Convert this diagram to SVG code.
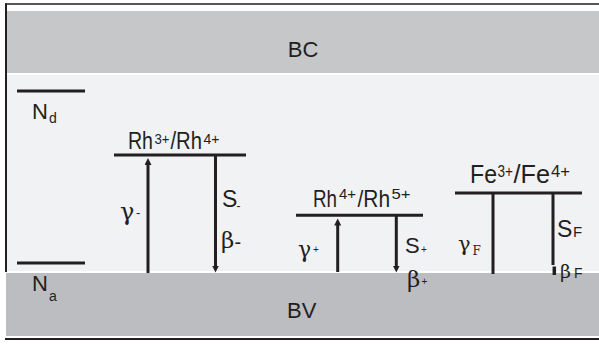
<svg xmlns="http://www.w3.org/2000/svg" width="599" height="344" viewBox="0 0 599 344">
<style>
.t{font-family:"Liberation Sans",Arial,sans-serif;fill:#231f20}
.g{font-family:"DejaVu Serif","Liberation Serif",serif;fill:#231f20}
.lv{stroke:#231f20;stroke-width:3;fill:none}
.ln{stroke:#231f20;stroke-width:3;fill:none}
</style>
<defs>
<marker id="ah" markerUnits="userSpaceOnUse" markerWidth="8" markerHeight="8" refX="3" refY="3.5" orient="auto">
<path d="M0,0 L7,3.5 L0,7 z" fill="#231f20"/>
</marker>
</defs>
<rect x="0" y="0" width="599" height="344" fill="#ffffff"/>
<g id="frame">
<rect x="7" y="11" width="592" height="62" fill="#c6c7c9"/>
<rect x="7" y="75" width="592" height="196" fill="#f1f2f4"/>
<rect x="6" y="273" width="593" height="63" fill="#bcbdc0"/>
<line x1="5" y1="4" x2="599" y2="4" stroke="#231f20" stroke-width="1.6"/>
<line x1="6" y1="3.5" x2="6" y2="272" stroke="#231f20" stroke-width="2"/>
<line x1="5" y1="339" x2="599" y2="339" stroke="#231f20" stroke-width="2"/>
</g>
<g id="BC"><text class="t" x="303" y="57" font-size="22" text-anchor="middle">BC</text></g>
<g id="BV"><text class="t" x="287" y="318" font-size="22">BV</text></g>
<g id="Nd">
<line class="ln" x1="17" y1="91" x2="85" y2="91"/>
<text class="t" x="32" y="119" font-size="22">N</text>
<text class="t" x="49" y="123" font-size="14">d</text>
</g>
<g id="Na">
<line class="ln" x1="17" y1="263" x2="85" y2="263"/>
<text class="t" x="32" y="291" font-size="22">N</text>
<text class="t" x="49" y="301" font-size="14">a</text>
</g>
<g id="Rh34">
<line class="ln" x1="114" y1="155" x2="246" y2="155"/>
<text class="t" x="128" y="149" font-size="23" textLength="25" lengthAdjust="spacingAndGlyphs">Rh</text>
<text class="t" x="154.5" y="143.5" font-size="15" textLength="15" lengthAdjust="spacingAndGlyphs">3+</text>
<text class="t" x="170.5" y="149" font-size="23" textLength="31.5" lengthAdjust="spacingAndGlyphs">/Rh</text>
<text class="t" x="203.5" y="143.5" font-size="15" textLength="16" lengthAdjust="spacingAndGlyphs">4+</text>
</g>
<g id="Rh45">
<line class="ln" x1="296" y1="215.3" x2="423" y2="215.3"/>
<text class="t" x="313" y="207" font-size="24" textLength="24" lengthAdjust="spacingAndGlyphs">Rh</text>
<text class="t" x="339" y="199" font-size="15" textLength="17" lengthAdjust="spacingAndGlyphs">4+</text>
<text class="t" x="357.5" y="207" font-size="24" textLength="32.5" lengthAdjust="spacingAndGlyphs">/Rh</text>
<text class="t" x="391.5" y="199" font-size="15" textLength="19" lengthAdjust="spacingAndGlyphs">5+</text>
</g>
<g id="Fe34">
<line class="ln" x1="455" y1="193" x2="582" y2="193"/>
<text class="t" x="470" y="183" font-size="25" textLength="27" lengthAdjust="spacingAndGlyphs">Fe</text>
<text class="t" x="497.5" y="177" font-size="16" textLength="15.5" lengthAdjust="spacingAndGlyphs">3+</text>
<text class="t" x="513.5" y="183" font-size="25" textLength="36.5" lengthAdjust="spacingAndGlyphs">/Fe</text>
<text class="t" x="551" y="177" font-size="16" textLength="19" lengthAdjust="spacingAndGlyphs">4+</text>
</g>
<g id="connectors">
<line class="lv" x1="148" y1="273" x2="148" y2="162" marker-end="url(#ah)"/>
<line class="lv" x1="215.5" y1="156" x2="215.5" y2="268.5" marker-end="url(#ah)"/>
<line class="lv" x1="337.7" y1="272" x2="337.7" y2="222.5" marker-end="url(#ah)"/>
<line class="lv" x1="396.3" y1="216" x2="396.3" y2="268.5" marker-end="url(#ah)"/>
<line class="lv" x1="493" y1="193" x2="493" y2="274"/>
<line class="lv" x1="553" y1="193" x2="553" y2="265"/>
<line x1="554.3" y1="266.5" x2="554.3" y2="275" stroke="#231f20" stroke-width="3.5"/>
</g>
<g id="labels">
<text class="g" x="120" y="220" font-size="24">γ</text>
<text class="t" x="136" y="217" font-size="13">-</text>
<text class="t" x="222" y="207" font-size="23">S</text>
<text class="t" x="236.5" y="210" font-size="12">-</text>
<text class="g" x="221" y="248" font-size="23">β</text>
<text class="t" x="234.5" y="249" font-size="20">-</text>
<text class="g" x="298" y="257" font-size="22">γ</text>
<text class="t" x="313" y="253" font-size="10">+</text>
<text class="t" x="405" y="253" font-size="22">S</text>
<text class="t" x="421" y="253" font-size="10">+</text>
<text class="g" x="407" y="287" font-size="23">β</text>
<text class="t" x="421.5" y="285" font-size="10">+</text>
<text class="g" x="458" y="251" font-size="21">γ</text>
<text class="g" x="472.5" y="255" font-size="12">F</text>
<text class="t" x="557" y="237" font-size="23">S</text>
<text class="t" x="573" y="237" font-size="15">F</text>
<text class="g" x="560" y="278" font-size="19">β</text>
<text class="t" x="574" y="278" font-size="14">F</text>
</g>
</svg>
